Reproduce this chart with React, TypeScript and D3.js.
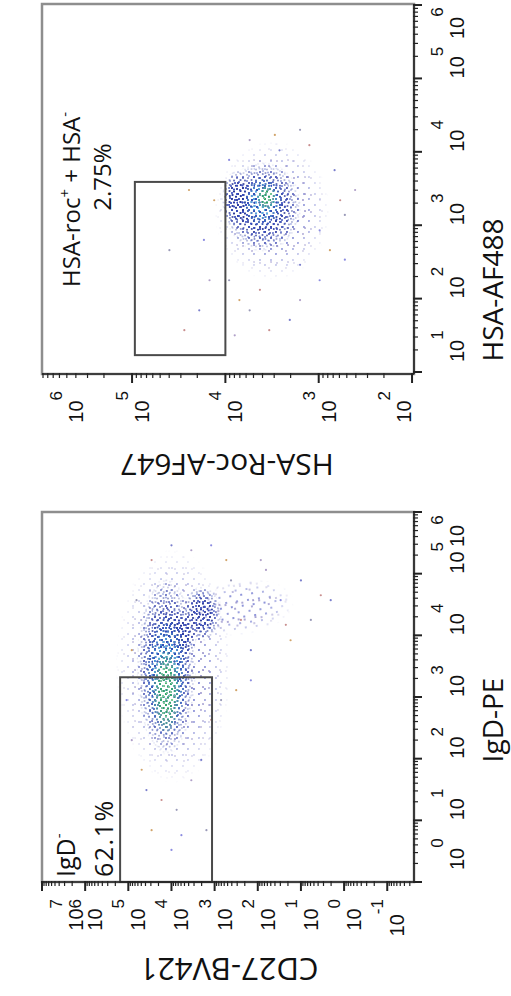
import React from 'react';
import * as d3 from 'd3';

const W = 511;
const H = 996;

// ---------- Top panel: HSA-AF488 (x, exponent) vs HSA-Roc-AF647 (y, exponent)
const topXTickExp = [1, 2, 3, 4, 5, 6];
const topYTickExp = [2, 3, 4, 5, 6];
const topGate = { xLo: 1.23, xHi: 3.59, yLo: 4.0, yHi: 4.97 };
const topGatePct = '2.75%';
// density regions of events: centre (x,y exponents), spread (decades), level
const topBlobX = [3.2, 3.25, 3.35, 3.32, 3.38];
const topBlobY = [3.5, 3.6, 3.88, 3.6, 3.56];
const topBlobSX = [0.95, 0.62, 0.4, 0.35, 0.17];
const topBlobSY = [0.62, 0.42, 0.16, 0.22, 0.11];
const topBlobRot = [0, 0, 0, 0, 0];
const topBlobLevel = [1, 2, 2, 3, 4];
// sparse events
const topEvX = [3.75, 3.34, 3.14, 2.66, 2.25, 1.98, 1.71, 1.57, 1.84, 1.98, 3.89, 4.16, 4.02, 4.09, 4.3, 3.34, 2.8, 2.25, 1.84, 1.57, 2.66, 3.48, 2.93, 3.48, 2.46, 2.12, 2.25, 4.23, 2.53, 1.5];
const topEvY = [2.83, 2.77, 2.72, 2.88, 2.99, 3.2, 3.31, 3.53, 3.74, 3.85, 3.96, 3.74, 3.42, 3.1, 3.2, 4.12, 4.23, 4.17, 4.28, 4.44, 4.6, 4.39, 2.99, 2.61, 3.2, 3.63, 3.96, 3.47, 2.72, 3.9];

// ---------- Bottom panel: IgD-PE (x, exponent) vs CD27-BV421 (y, exponent)
const botXTickExp = [0, 1, 2, 3, 4, 5, 6];
const botYTickExp = [-1, 0, 1, 2, 3, 4, 5, 6, 7];
const botGate = { xLo: 0, xHi: 3.32, yLo: 3.06, yHi: 5.19 };
const botGatePct = '62.1%';
const botBlobX = [3.5, 4.45, 3.5, 4.35, 4.0, 3.35, 3.1];
const botBlobY = [3.95, 2.4, 4.12, 3.3, 3.85, 4.12, 4.12];
const botBlobSX = [1.9, 0.45, 1.45, 0.45, 0.4, 1.0, 0.7];
const botBlobSY = [1.35, 1.25, 0.7, 0.45, 0.45, 0.5, 0.32];
const botBlobRot = [0, -8, 0, 0, 0, 0, 0];
const botBlobLevel = [1, 1, 2, 2, 2, 3, 4];
const botEvX = [4.89, 4.65, 4.25, 3.92, 4.57, 5.06, 3.76, 4.25, 4.89, 5.22, 5.46, 5.38, 5.46, 5.22, 4.57, 3.76, 2.95, 2.3, 1.49, 1.33, 1.17, 0.84, 0.52, 1.65, 1.98, 2.63, 2.95, 3.11, 3.27, 5.22, 4.57, 4.17, 0.84, 1.82, 0.76];
const botEvY = [1.0, 0.54, 0.77, 1.24, 1.47, 1.81, 2.16, 2.39, 2.62, 2.73, 3.08, 3.54, 4.0, 4.46, 4.81, 4.92, 5.04, 4.92, 4.58, 4.23, 3.88, 4.46, 4.0, 3.54, 3.31, 3.08, 2.85, 2.5, 2.16, 1.93, 0.31, 1.35, 3.19, 4.69, 3.77];

// ---------- styles (speckle texture used to paint the density regions)
const TICK_FONT = "'Liberation Sans', Arial, sans-serif";
const TITLE_FONT = "'Open Sans', 'Noto Sans', sans-serif";
const PA: [number, number][] = [[1, 1], [6, 2], [9.5, 4], [3, 4.5], [7, 7], [1.5, 8], [5, 9.8], [9.8, 9]];
const PB: [number, number][] = [[2, 3], [8, 1], [13, 2.5], [16, 7], [11, 6], [5, 8], [1, 12], [9, 11], [14, 13], [4.5, 15.5], [10, 16], [16.5, 15.8]];
const LEVEL_STYLE: Record<number, { a: string; b: string; pa: number[]; pb: number[] }> = {
  1: { a: '#7f86d4', b: '#9a94cc', pa: [0, 4], pb: [3, 5, 8] },
  2: { a: '#27359a', b: '#3a4fc0', pa: [0, 1, 2, 3, 4, 5, 6, 7], pb: [0, 1, 2, 3, 4, 5, 6, 7, 8, 9, 10, 11] },
  3: { a: '#5bb8ea', b: '#2b47b0', pa: [0, 1, 2, 3, 4, 5, 6, 7], pb: [0, 1, 2, 3, 4, 5, 6, 7, 8, 9, 10, 11] },
  4: { a: '#2fa558', b: '#8ed8a0', pa: [0, 1, 2, 3, 4, 5, 6, 7], pb: [0, 1, 2, 3, 4, 5, 6, 7, 8, 9, 10, 11] },
};
const EV_COLORS = ['#7b7fcc', '#c98f8f', '#9a9ab8', '#d1a46a', '#8c8ce0', '#b0a0c8'];

const pow = (e: number) => Math.pow(10, e);
const isDecade = (t: number) => Math.abs(Math.log10(t) - Math.round(Math.log10(t))) < 1e-6;
const clamp = (v: number, lo: number, hi: number) => Math.max(lo, Math.min(hi, v));

type Frame = { x0: number; x1: number; y0: number; y1: number };

function Panel(props: any) {
  const { id, f, v, h, xTicks, yTicks, blobs, evX, evY, gate } = props as {
    id: string; f: Frame; v: any; h: any; xTicks: number[]; yTicks: number[];
    blobs: { x: number[]; y: number[]; sx: number[]; sy: number[]; rot: number[]; lvl: number[] };
    evX: number[]; evY: number[]; gate: { xLo: number; xHi: number; yLo: number; yHi: number };
  };
  const vt = v.ticks();
  const ht = h.ticks();
  const gx0 = Math.min(h(pow(gate.yLo)), h(pow(gate.yHi)));
  const gx1 = Math.max(h(pow(gate.yLo)), h(pow(gate.yHi)));
  const gy0 = Math.min(v(pow(gate.xLo)), v(pow(gate.xHi)));
  const gy1 = Math.max(v(pow(gate.xLo)), v(pow(gate.xHi)));
  return (
    <g>
      <defs>
        <clipPath id={`clip-${id}`}>
          <rect x={f.x0} y={f.y0} width={f.x1 - f.x0} height={f.y1 - f.y0} />
        </clipPath>
      </defs>
      <rect x={f.x0} y={f.y0} width={f.x1 - f.x0} height={f.y1 - f.y0} fill="#fff" stroke="#8e8e8e" strokeWidth={2.5} />
      <g clipPath={`url(#clip-${id})`}>
        {blobs.x.map((bx, i) => {
          const cx = h(pow(blobs.y[i]));
          const cy = v(pow(bx));
          const rx = Math.abs(h(pow(blobs.y[i] + blobs.sy[i])) - cx);
          const ry = Math.abs(v(pow(bx + blobs.sx[i])) - cy);
          const lv = blobs.lvl[i];
          const tr = `rotate(${blobs.rot[i]},${cx},${cy})`;
          return (
            <g key={i}>
              <ellipse cx={cx} cy={cy} rx={rx} ry={ry} transform={tr} fill={`url(#pa${lv})`} mask="url(#soft)" />
              <ellipse cx={cx} cy={cy} rx={rx} ry={ry} transform={tr} fill={`url(#pb${lv})`} mask="url(#soft)" />
            </g>
          );
        })}
        {evX.map((ex, i) => (
          <circle key={i} cx={h(pow(evY[i]))} cy={v(pow(ex))} r={1.1} fill={EV_COLORS[i % EV_COLORS.length]} />
        ))}
      </g>
      <rect x={gx0} y={gy0} width={gx1 - gx0} height={gy1 - gy0} fill="none" stroke="#4a4a4a" strokeWidth={2} />
      {/* right axis (original x axis) */}
      <line x1={f.x1} x2={f.x1} y1={f.y0} y2={f.y1} stroke="#222" strokeWidth={1.6} />
      {vt.map((t: number, i: number) => (
        <line key={i} x1={f.x1 - 1} x2={f.x1 + (isDecade(t) ? 8 : 4)} y1={v(t)} y2={v(t)} stroke="#222" strokeWidth={isDecade(t) ? 2 : 1.2} />
      ))}
      {xTicks.map((e) => {
        const y = clamp(v(pow(e)), f.y0 + 35, f.y1 - 12);
        return (
          <text key={e} transform={`translate(${f.x1 + 50},${y}) rotate(-90)`} textAnchor="start" fontFamily={TICK_FONT} fontSize={20} fill="#111">
            <tspan>10</tspan>
            <tspan dy={-21} fontSize={17}>{e}</tspan>
          </text>
        );
      })}
      {/* bottom axis (original y axis) */}
      <line x1={f.x0} x2={f.x1} y1={f.y1} y2={f.y1} stroke="#222" strokeWidth={1.6} />
      {ht.map((t: number, i: number) => (
        <line key={i} x1={h(t)} x2={h(t)} y1={f.y1 - 1} y2={f.y1 + (isDecade(t) ? 9 : 4)} stroke="#222" strokeWidth={isDecade(t) ? 2 : 1.2} />
      ))}
      {yTicks.map((e) => {
        const x = clamp(h(pow(e)), f.x0 + 24, f.x1 - 20);
        return (
          <text key={e} transform={`translate(${x + 17},${f.y1 + 17}) rotate(-90)`} textAnchor="end" fontFamily={TICK_FONT} fontSize={20} fill="#111">
            <tspan>10</tspan>
            <tspan dy={-21} fontSize={17}>{e}</tspan>
          </text>
        );
      })}
    </g>
  );
}

export default function App() {
  const top: Frame = { x0: 42, x1: 414, y0: 4, y1: 374 };
  const bot: Frame = { x0: 42, x1: 414, y0: 512, y1: 882 };
  const topV = d3.scaleLog().domain([pow(0.973), pow(6.014)]).range([top.y1, top.y0]);
  const topH = d3.scaleLog().domain([pow(1.979), pow(5.965)]).range([top.x1, top.x0]);
  const botV = d3.scaleLog().domain([pow(0), pow(6)]).range([bot.y1, bot.y0]);
  const botH = d3.scaleLog().domain([pow(-1.62), pow(7)]).range([bot.x1, bot.x0]);

  const patterns = [1, 2, 3, 4].map((lv) => {
    const s = LEVEL_STYLE[lv];
    return (
      <React.Fragment key={lv}>
        <pattern id={`pa${lv}`} width={11} height={11} patternUnits="userSpaceOnUse">
          {s.pa.map((k) => <circle key={k} cx={PA[k][0]} cy={PA[k][1]} r={1.05} fill={s.a} />)}
        </pattern>
        <pattern id={`pb${lv}`} width={17} height={17} patternUnits="userSpaceOnUse">
          {s.pb.map((k) => <circle key={k} cx={PB[k][0]} cy={PB[k][1]} r={1.05} fill={s.b} />)}
        </pattern>
      </React.Fragment>
    );
  });

  return (
    <svg width={W} height={H} style={{ position: 'absolute', left: 0, top: 0, background: '#fff' }}>
      <defs>
        {patterns}
        <radialGradient id="rg" cx="0.5" cy="0.5" r="0.5">
          <stop offset="0" stopColor="#fff" />
          <stop offset="0.5" stopColor="#fff" />
          <stop offset="1" stopColor="#000" />
        </radialGradient>
        <mask id="soft" maskUnits="objectBoundingBox" maskContentUnits="objectBoundingBox" x="0" y="0" width="1" height="1">
          <rect x="0" y="0" width="1" height="1" fill="url(#rg)" />
        </mask>
      </defs>
      <rect x={0} y={0} width={W} height={H} fill="#fff" />

      <Panel id="top" f={top} v={topV} h={topH} xTicks={topXTickExp} yTicks={topYTickExp}
        blobs={{ x: topBlobX, y: topBlobY, sx: topBlobSX, sy: topBlobSY, rot: topBlobRot, lvl: topBlobLevel }}
        evX={topEvX} evY={topEvY} gate={topGate} />
      <Panel id="bot" f={bot} v={botV} h={botH} xTicks={botXTickExp} yTicks={botYTickExp}
        blobs={{ x: botBlobX, y: botBlobY, sx: botBlobSX, sy: botBlobSY, rot: botBlobRot, lvl: botBlobLevel }}
        evX={botEvX} evY={botEvY} gate={botGate} />

      {/* gate labels */}
      <text transform="translate(80,287) rotate(-90)" textAnchor="start" fontFamily={TITLE_FONT} fontSize={24} fill="#111">
        <tspan>HSA-roc</tspan>
        <tspan dy={-10} fontSize={15}>+</tspan>
        <tspan dy={10}> + HSA</tspan>
        <tspan dy={-10} fontSize={15}>-</tspan>
      </text>
      <text transform="translate(111,177) rotate(-90)" textAnchor="middle" fontFamily={TITLE_FONT} fontSize={24} fill="#111">{topGatePct}</text>
      <text transform="translate(75,877) rotate(-90)" textAnchor="start" fontFamily={TITLE_FONT} fontSize={25} fill="#111">
        <tspan>IgD</tspan>
        <tspan dy={-11} fontSize={15}>-</tspan>
      </text>
      <text transform="translate(113,877) rotate(-90)" textAnchor="start" fontFamily={TITLE_FONT} fontSize={25} letterSpacing={1.5} fill="#111">{botGatePct}</text>

      {/* axis titles */}
      <text transform="translate(503,290) rotate(-90)" textAnchor="middle" fontFamily={TITLE_FONT} fontSize={28} fill="#111">HSA-AF488</text>
      <text transform="translate(227,454) rotate(180)" textAnchor="middle" fontFamily={TITLE_FONT} fontSize={30} fill="#111">HSA-Roc-AF647</text>
      <text transform="translate(503,720) rotate(-90)" textAnchor="middle" fontFamily={TITLE_FONT} fontSize={28} fill="#111">IgD-PE</text>
      <text transform="translate(229,958) rotate(180)" textAnchor="middle" fontFamily={TITLE_FONT} fontSize={31} fill="#111">CD27-BV421</text>
    </svg>
  );
}
